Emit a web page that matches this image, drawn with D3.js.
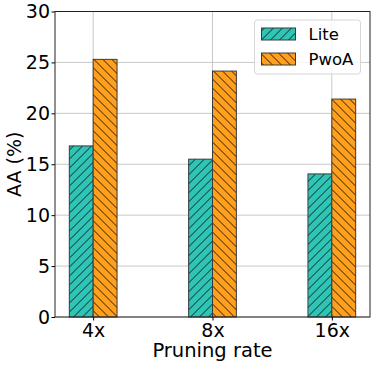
<!DOCTYPE html>
<html>
<head>
<meta charset="utf-8">
<script src="https://cdn.jsdelivr.net/npm/d3@7"></script>
<style>
  body { margin: 0; background: #fff; }
  text { font-family: "DejaVu Sans", sans-serif; fill: #000; }
</style>
</head>
<body>
<svg id="chart" width="374" height="367"></svg>
<script>
// data
var categories = ["4x", "8x", "16x"];
var seriesNames = ["Lite", "PwoA"];
var liteValues = [16.8, 15.5, 14.05];
var pwoaValues = [25.3, 24.15, 21.4];
var yTicks = [0, 5, 10, 15, 20, 25, 30];

var colors = ["#2ec4b6", "#ff9f1c"];
var hatchIds = ["hatchLite", "hatchPwoA"];

var margin = { top: 11.5, right: 4, bottom: 50, left: 55 },
  width = 374 - margin.left - margin.right,
  height = 367 - margin.top - margin.bottom;

var svg = d3.select("#chart");
var defs = svg.append("defs");

// hatch patterns: "/" and "\"
function addHatch(id, color, forward) {
  var p = defs.append("pattern")
    .attr("id", id)
    .attr("patternUnits", "userSpaceOnUse")
    .attr("width", 9)
    .attr("height", 9);
  p.append("rect").attr("width", 9).attr("height", 9).attr("fill", color);
  var d = forward
    ? "M0,9 L9,0 M-1,1 L1,-1 M8,10 L10,8"
    : "M0,0 L9,9 M-1,8 L1,10 M8,-1 L10,1";
  p.append("path").attr("d", d).attr("stroke", "#111").attr("stroke-width", 0.9);
}
addHatch(hatchIds[0], colors[0], true);
addHatch(hatchIds[1], colors[1], false);

var g = svg.append("g").attr("transform", "translate(" + margin.left + "," + margin.top + ")");

var x = d3.scaleLinear().domain([-0.32, 2.32]).range([0, width]);
var y = d3.scaleLinear().domain([0, 30]).range([height, 0]);
var barW = 0.2;

// grid
g.append("g").selectAll("line").data(yTicks).join("line")
  .attr("x1", 0).attr("x2", width)
  .attr("y1", d => y(d)).attr("y2", d => y(d))
  .attr("stroke", "#c8c8c8").attr("stroke-width", 1);
g.append("g").selectAll("line").data(categories).join("line")
  .attr("x1", (d, i) => x(i)).attr("x2", (d, i) => x(i))
  .attr("y1", 0).attr("y2", height)
  .attr("stroke", "#c8c8c8").attr("stroke-width", 1);

// bars
var series = [liteValues, pwoaValues];
series.forEach(function(vals, s) {
  g.append("g").selectAll("rect").data(vals).join("rect")
    .attr("x", (d, i) => x(i + (s === 0 ? -barW : 0)))
    .attr("width", x(barW) - x(0))
    .attr("y", d => y(d))
    .attr("height", d => y(0) - y(d))
    .attr("fill", "url(#" + hatchIds[s] + ")")
    .attr("stroke", "#3a3a3a")
    .attr("stroke-width", 1);
});

// axes
var xAxis = d3.axisBottom(x)
  .tickValues([0, 1, 2])
  .tickFormat((d) => categories[d])
  .tickSize(3.5)
  .tickPadding(3);
var gx = g.append("g").attr("transform", "translate(0," + height + ")").call(xAxis);
gx.select(".domain").remove();
gx.selectAll("text").style("font-size", "19px").attr("fill", "#000");
gx.selectAll("line").attr("stroke", "#000");

var yAxis = d3.axisLeft(y)
  .tickValues(yTicks)
  .tickSize(3.5)
  .tickPadding(1.5);
var gy = g.append("g").call(yAxis);
gy.select(".domain").remove();
gy.selectAll("text").style("font-size", "19px").attr("fill", "#000");
gy.selectAll("line").attr("stroke", "#000");

// frame
g.append("rect")
  .attr("width", width).attr("height", height)
  .attr("fill", "none").attr("stroke", "#222").attr("stroke-width", 1);

// axis labels
svg.append("text")
  .attr("x", margin.left + width / 2)
  .attr("y", 357)
  .attr("text-anchor", "middle")
  .style("font-size", "19.5px")
  .text("Pruning rate");
svg.append("text")
  .attr("transform", "translate(21," + (margin.top + height / 2) + ") rotate(-90)")
  .attr("text-anchor", "middle")
  .style("font-size", "19px")
  .text("AA (%)");

// legend
var leg = svg.append("g").attr("transform", "translate(254.5,20)");
leg.append("rect")
  .attr("width", 106).attr("height", 54).attr("rx", 3)
  .attr("fill", "#fff").attr("fill-opacity", 0.8)
  .attr("stroke", "#d6d6d6").attr("stroke-width", 1);
seriesNames.forEach(function(name, i) {
  leg.append("rect")
    .attr("x", 7).attr("y", 8 + i * 25)
    .attr("width", 34).attr("height", 12)
    .attr("fill", "url(#" + hatchIds[i] + ")")
    .attr("stroke", "#3a3a3a").attr("stroke-width", 1);
  leg.append("text")
    .attr("x", 54).attr("y", 20 + i * 24.5)
    .style("font-size", "16.5px")
    .text(name);
});
</script>
</body>
</html>
